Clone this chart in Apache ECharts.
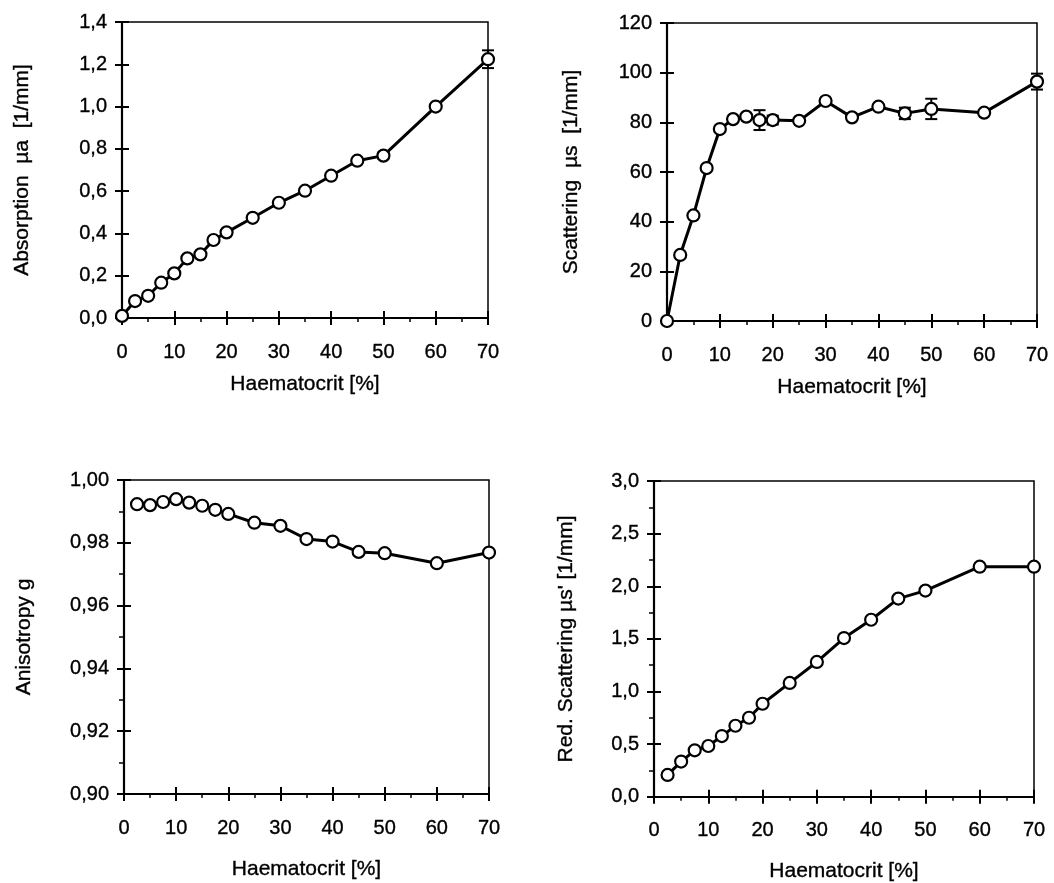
<!DOCTYPE html>
<html><head><meta charset="utf-8">
<script src="https://cdn.jsdelivr.net/npm/echarts@6/dist/echarts.min.js"></script>
<style>html,body{margin:0;padding:0;background:#fff}#c{width:1054px;height:883px}</style>
</head><body><div id="c"></div>
<script>
// ---- data ----
const xTickLabels = ['0','10','20','30','40','50','60','70'];

const absHct = [0,2.5,5,7.5,10,12.5,15,17.5,20,25,30,35,40,45,50,60,70];
const absVal = [0.01,0.08,0.105,0.167,0.211,0.282,0.301,0.369,0.405,0.474,0.545,0.602,0.673,0.744,0.768,1.0,1.224];
const absErrHct = [50,70];
const absErr = [0.015,0.042];

const scatHct = [0,2.5,5,7.5,10,12.5,15,17.5,20,25,30,35,40,45,50,60,70];
const scatVal = [0,26.6,42.5,61.6,77.3,81.3,82.3,80.9,80.9,80.6,88.6,82,86.3,83.6,85.4,83.9,96.4];
const scatErrHct = [17.5,20,45,50,70];
const scatErr = [4,1.8,2.3,4.1,3.2];

const anisoHct = [2.5,5,7.5,10,12.5,15,17.5,20,25,30,35,40,45,50,60,70];
const anisoVal = [0.9923,0.9920,0.9930,0.9939,0.9928,0.9918,0.9905,0.9892,0.9864,0.9854,0.9812,0.9804,0.9771,0.9767,0.9735,0.9769];

const redHct = [2.5,5,7.5,10,12.5,15,17.5,20,25,30,35,40,45,50,60,70];
const redVal = [0.208,0.335,0.442,0.483,0.577,0.675,0.751,0.884,1.082,1.281,1.508,1.682,1.883,1.959,2.186,2.186];

const yTitles = ['Absorption  µa  [1/mm]', 'Scattering  µs  [1/mm]', 'Anisotropy g', "Red. Scattering µs' [1/mm]"];
const xTitle = 'Haematocrit [%]';

// ---- chart ----
const FONT = '"Liberation Sans", Arial, sans-serif';
const TXT = {fontFamily:FONT, color:'#000', textBorderColor:'#000', textBorderWidth:0.35};
const comma = d => (v => v.toFixed(d).replace('.', ','));

const grids = [
  {left:122, top:22, width:366, height:296},
  {left:667, top:23, width:370, height:298},
  {left:124, top:480, width:365, height:314},
  {left:654, top:481, width:380, height:316}
].map(g => Object.assign(g, {show:true, borderColor:'#000', borderWidth:1.5, backgroundColor:'transparent'}));

const xGaps = [56, 56, 65, 64];
const yCfg = [
  {min:0, max:1.4, interval:0.2, fmt:comma(1), minor:false, gap:89},
  {min:0, max:120, interval:20, fmt:v=>String(v), minor:false, gap:85},
  {min:0.9, max:1.0, interval:0.02, fmt:comma(2), minor:true, gap:89},
  {min:0, max:3, interval:0.5, fmt:comma(1), minor:true, gap:77}
];

const xAxis = [], yAxis = [];
for (let i = 0; i < 4; i++) {
  xAxis.push({
    gridIndex:i, type:'value', min:0, max:70, interval:10, position:'bottom',
    name:xTitle, nameLocation:'middle', nameGap:xGaps[i],
    nameTextStyle:Object.assign({fontSize:21}, TXT),
    axisLine:{show:true, onZero:false, lineStyle:{color:'#000', width:2.2}},
    axisTick:{show:true, inside:false, length:7, lineStyle:{color:'#000', width:2}},
    minorTick:{show:true, splitNumber:2, length:4, lineStyle:{color:'#000', width:1.5}},
    axisLabel:Object.assign({fontSize:20, margin:24, formatter:v => xTickLabels[Math.round(v/10)]}, TXT),
    splitLine:{show:false}, minorSplitLine:{show:false}
  });
  xAxis.push({
    gridIndex:i, type:'value', min:0, max:70, interval:10, position:'bottom',
    axisLine:{show:false}, axisTick:{show:true, inside:true, length:7, lineStyle:{color:'#000', width:2}},
    axisLabel:{show:false}, splitLine:{show:false}
  });
  const c = yCfg[i];
  yAxis.push({
    gridIndex:i, type:'value', min:c.min, max:c.max, interval:c.interval, position:'left',
    name:yTitles[i], nameLocation:'middle', nameGap:c.gap,
    nameTextStyle:Object.assign({fontSize:21}, TXT),
    axisLine:{show:true, onZero:false, lineStyle:{color:'#000', width:2.2}},
    axisTick:{show:true, inside:false, length:7, lineStyle:{color:'#000', width:2}},
    minorTick:{show:c.minor, splitNumber:2, length:5, lineStyle:{color:'#000', width:1.5}},
    axisLabel:Object.assign({fontSize:20, margin:15, formatter:c.fmt}, TXT),
    splitLine:{show:false}, minorSplitLine:{show:false}
  });
  yAxis.push({
    gridIndex:i, type:'value', min:c.min, max:c.max, interval:c.interval, position:'left',
    axisLine:{show:false}, axisTick:{show:true, inside:true, length:7, lineStyle:{color:'#000', width:2}},
    axisLabel:{show:false}, splitLine:{show:false}
  });
}

function errSeries(gi, hct, vals, xs, errs) {
  const data = xs.map((x, k) => { const v = vals[hct.indexOf(x)]; return [x, v - errs[k], v + errs[k]]; });
  return {
    type:'custom', xAxisIndex:2*gi, yAxisIndex:2*gi, data, clip:false, z:2,
    encode:{x:0, y:[1,2]},
    renderItem:(params, api) => {
      const x = api.value(0);
      const lo = api.coord([x, api.value(1)]);
      const hi = api.coord([x, api.value(2)]);
      const w = 6, st = {stroke:'#000', lineWidth:2};
      return {type:'group', children:[
        {type:'line', shape:{x1:lo[0], y1:lo[1], x2:hi[0], y2:hi[1]}, style:st},
        {type:'line', shape:{x1:lo[0]-w, y1:lo[1], x2:lo[0]+w, y2:lo[1]}, style:st},
        {type:'line', shape:{x1:hi[0]-w, y1:hi[1], x2:hi[0]+w, y2:hi[1]}, style:st}
      ]};
    }
  };
}
function lineSeries(gi, hct, vals) {
  return {
    type:'line', xAxisIndex:2*gi, yAxisIndex:2*gi, data:hct.map((x, j) => [x, vals[j]]),
    symbol:'circle', symbolSize:12, showSymbol:true, clip:false, z:3,
    lineStyle:{color:'#000', width:3},
    itemStyle:{color:'#fff', borderColor:'#000', borderWidth:2.2}
  };
}

const series = [
  errSeries(0, absHct, absVal, absErrHct, absErr),
  lineSeries(0, absHct, absVal),
  errSeries(1, scatHct, scatVal, scatErrHct, scatErr),
  lineSeries(1, scatHct, scatVal),
  lineSeries(2, anisoHct, anisoVal),
  lineSeries(3, redHct, redVal)
];

const chart = echarts.init(document.getElementById('c'), null, {renderer:'canvas'});
chart.setOption({animation:false, backgroundColor:'#fff', grid:grids, xAxis, yAxis, series});
</script></body></html>
